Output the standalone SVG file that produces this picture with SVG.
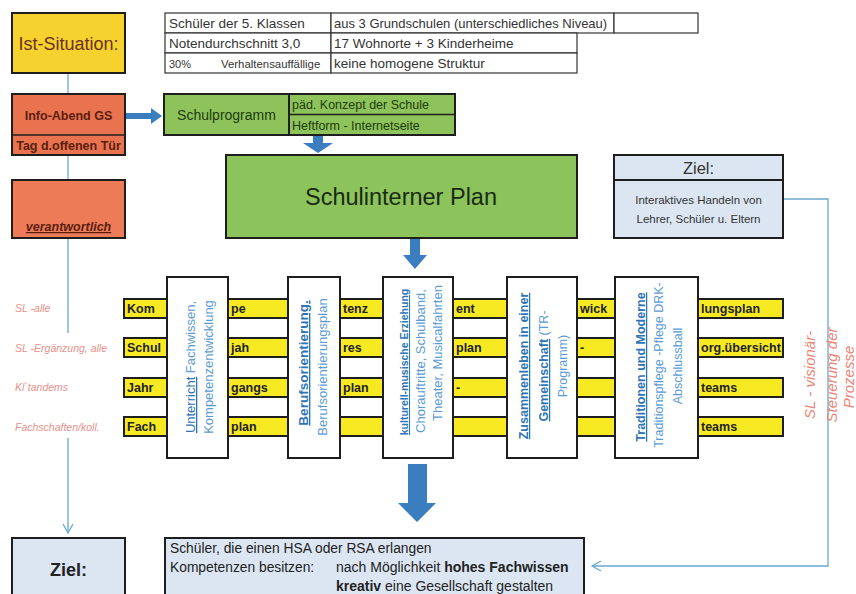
<svg xmlns="http://www.w3.org/2000/svg" width="856" height="594" viewBox="0 0 856 594">
<style>
text{font-family:"Liberation Sans",Arial,sans-serif;}
.bx{stroke:#1e1e1e;stroke-width:2;}
.tb{fill:#fff;stroke:#333;stroke-width:1.2;}
.tt{fill:#333;}
.bar{fill:#F7EA22;stroke:#1e1e1e;stroke-width:2;}
.bt{font-size:12.5px;fill:#222;font-weight:bold;}
.vb{fill:#fff;stroke:#1e1e1e;stroke-width:2;}
.vt1{fill:#2E74B5;font-weight:bold;text-decoration:underline;}
.vt2{fill:#5B9BD5;}
.ll{font-size:10.5px;font-style:italic;fill:#E8918A;}
.thin{fill:none;stroke:#6AA8D0;stroke-width:1.3;}
.blue{fill:#3A7EC0;}
.sl{font-size:15px;font-style:italic;fill:#EE8374;}
</style>
<defs>
<marker id="open" markerWidth="12" markerHeight="12" refX="10" refY="6" orient="auto" markerUnits="userSpaceOnUse">
<path d="M1,1 L10,6 L1,11" fill="none" stroke="#6AA8D0" stroke-width="1.3"/>
</marker>
</defs>
<rect width="856" height="594" fill="#fff"/>

<g id="connectors">
<line class="thin" x1="68" y1="73" x2="68" y2="94"/>
<line class="thin" x1="68" y1="155" x2="68" y2="180"/>
<line class="thin" x1="68" y1="238" x2="68" y2="333"/>
<line class="thin" x1="68" y1="438" x2="68" y2="533" marker-end="url(#open)"/>
<polyline class="thin" points="783,199 828,199 828,566 592,566" marker-end="url(#open)"/>
<polygon class="blue" points="125,113 151,113 151,108 162,116 151,124 151,119 125,119"/>
<polygon class="blue" points="313,135 323,135 323,143 333,143 318,153 303,143 313,143"/>
<polygon class="blue" points="410,238 420,238 420,255 427,255 415,269 403,255 410,255"/>
<polygon class="blue" points="408,464 427,464 427,503 436,503 417,522 398,503 408,503"/>
</g>

<g id="ist">
<rect class="bx" x="12" y="13" width="113" height="60" fill="#F5D22E"/>
<text x="68.5" y="50" text-anchor="middle" font-size="18" fill="#6B3020">Ist-Situation:</text>
</g>

<g id="table">
<rect class="tb" x="165" y="13" width="166" height="20"/>
<rect class="tb" x="331" y="13" width="283" height="20"/>
<rect class="tb" x="614" y="13" width="84" height="20"/>
<rect class="tb" x="165" y="33" width="166" height="20"/>
<rect class="tb" x="331" y="33" width="246" height="20"/>
<rect class="tb" x="165" y="53" width="166" height="20"/>
<rect class="tb" x="331" y="53" width="246" height="20"/>
<text class="tt" x="169" y="28" font-size="13.5">Schüler der 5. Klassen</text>
<text class="tt" x="334" y="28" font-size="13">aus 3 Grundschulen (unterschiedliches Niveau)</text>
<text class="tt" x="169" y="48" font-size="13.5">Notendurchschnitt 3,0</text>
<text class="tt" x="334" y="48" font-size="13.5">17 Wohnorte + 3 Kinderheime</text>
<text class="tt" x="169" y="68" font-size="11">30%</text>
<text class="tt" x="221" y="68" font-size="11.4">Verhaltensauffällige</text>
<text class="tt" x="334" y="68" font-size="13.5">keine homogene Struktur</text>
</g>

<g id="infoabend">
<rect class="bx" x="12" y="94" width="113" height="61" fill="#E9734F"/>
<line x1="12" y1="135" x2="125" y2="135" stroke="#1e1e1e" stroke-width="1.5"/>
<text x="68.5" y="120" text-anchor="middle" font-size="12.5" font-weight="bold" fill="#5A1E10">Info-Abend GS</text>
<text x="68.5" y="150" text-anchor="middle" font-size="12.5" font-weight="bold" fill="#5A1E10">Tag d.offenen Tür</text>
</g>

<g id="verantwortlich">
<rect class="bx" x="12" y="180" width="113" height="58" fill="#EE7B57"/>
<text x="68.5" y="231" text-anchor="middle" font-size="12.5" font-style="italic" font-weight="bold" fill="#5A1E10" text-decoration="underline">verantwortlich</text>
</g>

<g id="schulprogramm">
<rect class="bx" x="164" y="94" width="291" height="41" fill="#8DC35A"/>
<line x1="289" y1="94" x2="289" y2="135" stroke="#1e1e1e" stroke-width="2"/>
<line x1="289" y1="114.5" x2="455" y2="114.5" stroke="#1e1e1e" stroke-width="1.5"/>
<text x="226.5" y="120" text-anchor="middle" font-size="14" fill="#1E3A10">Schulprogramm</text>
<text x="292" y="109" font-size="12.5" fill="#1E3A10">päd. Konzept der Schule</text>
<text x="292" y="130" font-size="12.5" fill="#1E3A10">Heftform - Internetseite</text>
</g>

<g id="schulinterner">
<rect class="bx" x="226" y="155" width="351" height="83" fill="#8CC35B"/>
<text x="401" y="205" text-anchor="middle" font-size="23.5" fill="#1A2A12">Schulinterner Plan</text>
</g>

<g id="ziel-oben">
<rect class="bx" x="614" y="155" width="169" height="83" fill="#DCE6F2"/>
<line x1="614" y1="180" x2="783" y2="180" stroke="#1e1e1e" stroke-width="2"/>
<text x="698.5" y="174" text-anchor="middle" font-size="16.5" fill="#333">Ziel:</text>
<text x="698.5" y="204" text-anchor="middle" font-size="11.5" fill="#333">Interaktives Handeln von</text>
<text x="698.5" y="223" text-anchor="middle" font-size="11.5" fill="#333">Lehrer, Schüler u. Eltern</text>
</g>

<g id="labels-left">
<text class="ll" x="15" y="312">SL -alle</text>
<text class="ll" x="15" y="352">SL -Ergänzung, alle</text>
<text class="ll" x="15" y="391">Kl`tandems</text>
<text class="ll" x="15" y="431">Fachschaften/koll.</text>
</g>

<g id="bars">
<rect class="bar" x="124" y="299" width="659" height="19"/>
<rect class="bar" x="124" y="338" width="659" height="19"/>
<rect class="bar" x="124" y="378" width="659" height="19"/>
<rect class="bar" x="124" y="417" width="659" height="19"/>
<text class="bt" x="127" y="313">Kom</text>
<text class="bt" x="231" y="313">pe</text>
<text class="bt" x="343" y="313">tenz</text>
<text class="bt" x="456" y="313">ent</text>
<text class="bt" x="580" y="313">wick</text>
<text class="bt" x="701" y="313">lungsplan</text>
<text class="bt" x="127" y="352">Schul</text>
<text class="bt" x="231" y="352">jah</text>
<text class="bt" x="343" y="352">res</text>
<text class="bt" x="456" y="352">plan</text>
<text class="bt" x="580" y="352">-</text>
<text class="bt" x="701" y="352">org.übersicht</text>
<text class="bt" x="127" y="392">Jahr</text>
<text class="bt" x="231" y="392">gangs</text>
<text class="bt" x="343" y="392">plan</text>
<text class="bt" x="456" y="392">-</text>
<text class="bt" x="701" y="392">teams</text>
<text class="bt" x="127" y="431">Fach</text>
<text class="bt" x="231" y="431">plan</text>
<text class="bt" x="701" y="431">teams</text>
</g>

<g id="unterricht">
<rect class="vb" x="167" y="277" width="61" height="181"/>
<text transform="translate(195,367) rotate(-90)" text-anchor="middle" font-size="13"><tspan fill="#2E74B5" text-decoration="underline">Unterricht</tspan><tspan fill="#5B9BD5"> Fachwissen,</tspan></text>
<text class="vt2" transform="translate(213,367) rotate(-90)" text-anchor="middle" font-size="13">Kompetenzentwicklung</text>
</g>

<g id="berufsorientierung">
<rect class="vb" x="288" y="277" width="52" height="181"/>
<text class="vt1" transform="translate(308,363) rotate(-90)" text-anchor="middle" font-size="13.5">Berufsorientierung.</text>
<text class="vt2" transform="translate(327,367) rotate(-90)" text-anchor="middle" font-size="13">Berufsorientierungsplan</text>
</g>

<g id="kulturell">
<rect class="vb" x="383" y="277" width="70" height="181"/>
<text class="vt1" transform="translate(408,362) rotate(-90)" text-anchor="middle" font-size="10.5">kulturell-musische Erziehung</text>
<text class="vt2" transform="translate(425,361) rotate(-90)" text-anchor="middle" font-size="13">Chorauftritte, Schulband,</text>
<text class="vt2" transform="translate(442,353) rotate(-90)" text-anchor="middle" font-size="13">Theater, Musicalfahrten</text>
</g>

<g id="zusammenleben">
<rect class="vb" x="507" y="277" width="70" height="181"/>
<text class="vt1" transform="translate(528,366) rotate(-90)" text-anchor="middle" font-size="12.5">Zusammenleben in einer</text>
<text transform="translate(548,366) rotate(-90)" text-anchor="middle" font-size="12.5"><tspan fill="#2E74B5" font-weight="bold" text-decoration="underline">Gemeinschaft</tspan><tspan fill="#5B9BD5"> (TR-</tspan></text>
<text class="vt2" transform="translate(567,366) rotate(-90)" text-anchor="middle" font-size="12.5">Programm)</text>
</g>

<g id="traditionen">
<rect class="vb" x="615" y="277" width="83" height="181"/>
<text class="vt1" transform="translate(645,367) rotate(-90)" text-anchor="middle" font-size="12.5">Traditionen und Moderne</text>
<text class="vt2" transform="translate(663,365) rotate(-90)" text-anchor="middle" font-size="12.5">Traditionspflege -Pflege DRK-</text>
<text class="vt2" transform="translate(682,366) rotate(-90)" text-anchor="middle" font-size="12.5">Abschlussball</text>
</g>

<g id="sl-steuerung">
<text class="sl" transform="translate(815,375) rotate(-90)" text-anchor="middle">SL - visionär-</text>
<text class="sl" transform="translate(837,375) rotate(-90)" text-anchor="middle">Steuerung der</text>
<text class="sl" transform="translate(854,377) rotate(-90)" text-anchor="middle">Prozesse</text>
</g>

<g id="ziel-unten">
<rect class="bx" x="12" y="538" width="113" height="62" fill="#DCE6F2"/>
<text x="68.5" y="576" text-anchor="middle" font-size="18" font-weight="bold" fill="#222">Ziel:</text>
</g>

<g id="ergebnis">
<rect class="bx" x="165" y="538" width="419" height="62" fill="#DCE6F2"/>
<text x="170" y="553" font-size="13.8" fill="#222">Schüler, die einen HSA oder RSA erlangen</text>
<text x="170" y="572" font-size="13.8" fill="#222">Kompetenzen besitzen:</text>
<text x="336" y="572" font-size="14" fill="#222">nach Möglichkeit <tspan font-weight="bold">hohes Fachwissen</tspan></text>
<text x="336" y="591" font-size="14" fill="#222"><tspan font-weight="bold">kreativ</tspan> eine Gesellschaft gestalten</text>
</g>
</svg>
